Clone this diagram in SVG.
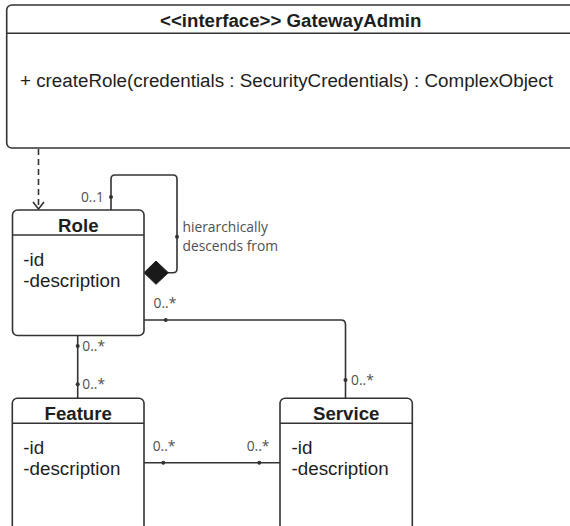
<svg xmlns="http://www.w3.org/2000/svg" width="570" height="526" viewBox="0 0 570 526">
  <style>
    .box { fill: #ffffff; stroke: #333333; stroke-width: 1.6; }
    .sep { stroke: #333333; stroke-width: 1.6; }
    .title { font-family: "Liberation Sans", Arial, sans-serif; font-size: 18.67px; font-weight: bold; fill: #1e1e1e; text-anchor: middle; }
    .member { font-family: "Liberation Sans", Arial, sans-serif; font-size: 18.8px; fill: #1e1e1e; }
    .edge { fill: none; stroke: #333333; stroke-width: 1.6; }
    .label { font-family: "Open Sans", "Noto Sans", sans-serif; font-size: 13.8px; fill: #505050; }
    .dot { fill: #333333; }
  </style>
  <rect width="570" height="526" fill="#ffffff"/>

  <g id="connectors">
    <!-- realization: Role -> GatewayAdmin (dashed, open head) -->
    <line class="edge" x1="38.5" y1="149" x2="38.5" y2="208" stroke-dasharray="6 4"/>
    <polyline class="edge" points="33,202 38.5,209 44,202"/>

    <!-- self aggregation on Role -->
    <path class="edge" d="M111,210 V179 Q111,175 115,175 H173 Q177,175 177,179 V268.7 Q177,272.7 173,272.7 H168"/>
    <polygon points="144,272.7 156,261 168.3,272.7 156,284.3" fill="#1a1a1a" stroke="#1a1a1a" stroke-width="1"/>
    <circle class="dot" cx="111" cy="197" r="2"/>
    <circle class="dot" cx="177" cy="236.7" r="2"/>
    <text class="label" x="104" y="201.7" text-anchor="end">0..1</text>
    <text class="label" x="182.5" y="231.7">hierarchically</text>
    <text class="label" x="182.5" y="250.7">descends from</text>

    <!-- Role - Service -->
    <path class="edge" d="M144,320 H341 Q345.5,320 345.5,324.5 V398"/>
    <circle class="dot" cx="165.7" cy="320" r="2"/>
    <circle class="dot" cx="345.5" cy="380" r="2"/>
    <text class="label" x="153.5" y="308">0..*</text>
    <text class="label" x="351" y="384.5">0..*</text>

    <!-- Role - Feature -->
    <line class="edge" x1="77.7" y1="335" x2="77.7" y2="398"/>
    <circle class="dot" cx="77.7" cy="346" r="2"/>
    <circle class="dot" cx="77.7" cy="384.3" r="2"/>
    <text class="label" x="82.3" y="350.5">0..*</text>
    <text class="label" x="82.3" y="388.8">0..*</text>

    <!-- Feature - Service -->
    <line class="edge" x1="144" y1="462.7" x2="280" y2="462.7"/>
    <circle class="dot" cx="163.3" cy="462.7" r="2"/>
    <circle class="dot" cx="259.3" cy="462.7" r="2"/>
    <text class="label" x="152.7" y="450.7">0..*</text>
    <text class="label" x="246.7" y="450.7">0..*</text>
  </g>

  <g id="GatewayAdmin">
    <rect class="box" x="6.7" y="5" width="568" height="143" rx="5"/>
    <line class="sep" x1="6.7" y1="33.3" x2="574.7" y2="33.3"/>
    <text class="title" x="290.7" y="26.5">&lt;&lt;interface&gt;&gt; GatewayAdmin</text>
    <text class="member" x="20" y="87">+ createRole(credentials : SecurityCredentials) : ComplexObject</text>
  </g>

  <g id="Role">
    <rect class="box" x="12.5" y="210" width="131.5" height="125.5" rx="5"/>
    <line class="sep" x1="12.5" y1="235" x2="144" y2="235"/>
    <text class="title" x="78.3" y="231.5">Role</text>
    <text class="member" x="23.3" y="266">-id</text>
    <text class="member" x="23.3" y="286.7">-description</text>
  </g>

  <g id="Feature">
    <rect class="box" x="12.3" y="398.3" width="131.7" height="150" rx="5"/>
    <line class="sep" x1="12.3" y1="423.3" x2="144" y2="423.3"/>
    <text class="title" x="78.2" y="419.5">Feature</text>
    <text class="member" x="23.3" y="454">-id</text>
    <text class="member" x="23.3" y="474.7">-description</text>
  </g>

  <g id="Service">
    <rect class="box" x="280" y="398.3" width="132.3" height="150" rx="5"/>
    <line class="sep" x1="280" y1="423.3" x2="412.3" y2="423.3"/>
    <text class="title" x="346.2" y="419.5">Service</text>
    <text class="member" x="291.5" y="454">-id</text>
    <text class="member" x="291.5" y="474.7">-description</text>
  </g>
</svg>
